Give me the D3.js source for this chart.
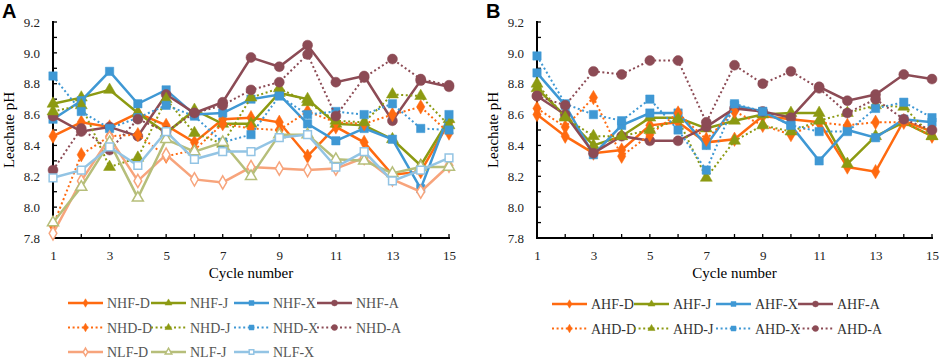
<!DOCTYPE html>
<html><head><meta charset="utf-8">
<script src="https://cdn.jsdelivr.net/npm/d3@7"></script>
<style>body{margin:0;background:#fff}svg{display:block}</style>
</head><body><svg id="c" width="941" height="360"></svg>
<script>
const cycles = [1,2,3,4,5,6,7,8,9,10,11,12,13,14,15];
const xTicks = [1,3,5,7,9,11,13,15];
const yTicks = [7.8,8.0,8.2,8.4,8.6,8.8,9.0,9.2];

// Panel A
const NHF_D = [8.46,8.55,8.52,8.61,8.53,8.42,8.57,8.58,8.55,8.33,8.52,8.42,8.21,8.23,8.55];
const NHF_J = [8.67,8.71,8.76,8.61,8.48,8.63,8.54,8.54,8.74,8.70,8.54,8.53,8.44,8.27,8.57];
const NHF_X = [8.57,8.69,8.88,8.67,8.76,8.60,8.61,8.70,8.73,8.54,8.43,8.51,8.44,8.12,8.60];
const NHF_A = [8.59,8.49,8.52,8.46,8.73,8.61,8.68,8.97,8.91,9.05,8.81,8.85,8.56,8.82,8.78];
const NHD_D = [7.88,8.34,8.46,8.47,8.33,8.37,8.54,8.51,8.50,8.62,8.55,8.54,8.60,8.65,8.48];
const NHD_J = [8.62,8.66,8.26,8.32,8.70,8.48,8.41,8.71,8.77,8.68,8.56,8.55,8.73,8.72,8.53];
const NHD_X = [8.85,8.62,8.51,8.58,8.66,8.59,8.42,8.47,8.72,8.60,8.62,8.60,8.67,8.51,8.50];
const NHD_A = [8.24,8.51,8.37,8.57,8.49,8.61,8.66,8.76,8.81,8.99,8.59,8.84,8.96,8.83,8.79];
const NLF_D = [7.83,8.17,8.45,8.17,8.34,8.18,8.16,8.26,8.25,8.24,8.25,8.32,8.18,8.10,8.27];
const NLF_J = [7.90,8.13,8.42,8.06,8.44,8.36,8.42,8.20,8.47,8.47,8.31,8.30,8.22,8.26,8.26];
const NLF_X = [8.19,8.24,8.39,8.27,8.49,8.31,8.36,8.36,8.45,8.47,8.26,8.36,8.17,8.24,8.32];

// Panel B
const AHF_D = [8.60,8.46,8.35,8.37,8.53,8.55,8.42,8.44,8.59,8.57,8.55,8.26,8.23,8.56,8.49];
const AHF_J = [8.77,8.59,8.40,8.46,8.58,8.58,8.51,8.56,8.60,8.61,8.61,8.28,8.46,8.55,8.46];
const AHF_X = [8.87,8.66,8.34,8.53,8.61,8.61,8.40,8.66,8.62,8.53,8.30,8.50,8.45,8.57,8.55];
const AHF_A = [8.72,8.60,8.35,8.46,8.43,8.43,8.52,8.64,8.62,8.58,8.78,8.69,8.73,8.86,8.83];
const AHD_D = [8.64,8.52,8.71,8.33,8.47,8.61,8.44,8.62,8.53,8.47,8.55,8.53,8.55,8.55,8.46];
const AHD_J = [8.80,8.58,8.46,8.46,8.50,8.57,8.19,8.43,8.53,8.49,8.56,8.61,8.66,8.65,8.46];
const AHD_X = [8.98,8.67,8.60,8.56,8.70,8.50,8.24,8.67,8.62,8.53,8.49,8.49,8.64,8.68,8.58];
const AHD_A = [8.72,8.66,8.88,8.86,8.95,8.95,8.55,8.92,8.80,8.88,8.77,8.61,8.70,8.57,8.50];

const C = {orange:"#ff6a10", olive:"#8c9a12", blue:"#3f98d4", brown:"#8c4b55",
           lorange:"#f7a47c", lolive:"#b6be7a", lblue:"#93c4e4"};

const seriesA = [
  {name:"NHF-D", data:NHF_D, color:C.orange, sym:"diamond", dash:false, hollow:false},
  {name:"NHF-J", data:NHF_J, color:C.olive, sym:"triangle", dash:false, hollow:false},
  {name:"NHF-X", data:NHF_X, color:C.blue, sym:"square", dash:false, hollow:false},
  {name:"NHF-A", data:NHF_A, color:C.brown, sym:"circle", dash:false, hollow:false},
  {name:"NHD-D", data:NHD_D, color:C.orange, sym:"diamond", dash:true, hollow:false},
  {name:"NHD-J", data:NHD_J, color:C.olive, sym:"triangle", dash:true, hollow:false},
  {name:"NHD-X", data:NHD_X, color:C.blue, sym:"square", dash:true, hollow:false},
  {name:"NHD-A", data:NHD_A, color:C.brown, sym:"circle", dash:true, hollow:false},
  {name:"NLF-D", data:NLF_D, color:C.lorange, sym:"diamond", dash:false, hollow:true},
  {name:"NLF-J", data:NLF_J, color:C.lolive, sym:"triangle", dash:false, hollow:true},
  {name:"NLF-X", data:NLF_X, color:C.lblue, sym:"square", dash:false, hollow:true}
];
const seriesB = [
  {name:"AHF-D", data:AHF_D, color:C.orange, sym:"diamond", dash:false, hollow:false},
  {name:"AHF-J", data:AHF_J, color:C.olive, sym:"triangle", dash:false, hollow:false},
  {name:"AHF-X", data:AHF_X, color:C.blue, sym:"square", dash:false, hollow:false},
  {name:"AHF-A", data:AHF_A, color:C.brown, sym:"circle", dash:false, hollow:false},
  {name:"AHD-D", data:AHD_D, color:C.orange, sym:"diamond", dash:true, hollow:false},
  {name:"AHD-J", data:AHD_J, color:C.olive, sym:"triangle", dash:true, hollow:false},
  {name:"AHD-X", data:AHD_X, color:C.blue, sym:"square", dash:true, hollow:false},
  {name:"AHD-A", data:AHD_A, color:C.brown, sym:"circle", dash:true, hollow:false}
];

const svg = d3.select("#c");
const serif = "'Liberation Serif','Times New Roman',serif";
const symMap = {diamond:[d3.symbolDiamond,60], triangle:[d3.symbolTriangle,62], square:[d3.symbolSquare,70], circle:[d3.symbolCircle,78]};

function marker(g, s, x, y, scale){
  scale = scale || 1;
  const [t, size] = symMap[s.sym];
  g.append("path").attr("d", d3.symbol().type(t).size((s.hollow ? size*0.85 : size)*scale)())
    .attr("transform", `translate(${x},${y})`)
    .attr("fill", s.hollow ? "#fff" : s.color)
    .attr("stroke", s.color).attr("stroke-width", s.hollow ? 1.5 : 0.5);
}

function panel(opt){
  const {left, right, letter, series, legendX, legendY, colW, textColor} = opt;
  const top = 22, bottom = 238;
  const x = d3.scaleLinear().domain([1,15]).range([left,right]);
  const y = d3.scaleLinear().domain([7.8,9.2]).range([bottom,top]);
  const g = svg.append("g");

  g.append("text").attr("x", left-51).attr("y", 18).text(letter)
    .attr("font-family","Arial,'Liberation Sans',sans-serif").attr("font-weight","bold").attr("font-size",20);

  const yMinor = d3.range(7.8, 9.21, 0.1);
  const yAxis = d3.axisLeft(y).tickValues(yTicks).tickFormat(d3.format(".1f")).tickSize(0).tickPadding(13);
  const ya = g.append("g").attr("transform",`translate(${left},0)`).call(yAxis);
  ya.select(".domain").remove();
  ya.selectAll("text").attr("font-family",serif).attr("font-size",13).attr("fill","#222");
  g.selectAll(".ymt").data(yMinor).join("line")
    .attr("x1",left).attr("x2",left+4).attr("y1",d=>y(d)).attr("y2",d=>y(d))
    .attr("stroke","#000").attr("stroke-width",1.3);

  const xAxis = d3.axisBottom(x).tickValues(xTicks).tickFormat(d3.format("d")).tickSize(0).tickPadding(13);
  const xa = g.append("g").attr("transform",`translate(0,${bottom})`).call(xAxis);
  xa.select(".domain").remove();
  xa.selectAll("text").attr("font-family",serif).attr("font-size",13).attr("fill","#222");
  g.selectAll(".xmt").data(cycles).join("line")
    .attr("x1",d=>x(d)).attr("x2",d=>x(d)).attr("y1",bottom).attr("y2",bottom-4)
    .attr("stroke","#000").attr("stroke-width",1.3);

  g.append("line").attr("x1",left).attr("x2",left).attr("y1",top-1).attr("y2",bottom+1)
    .attr("stroke","#000").attr("stroke-width",2);
  g.append("line").attr("x1",left-1).attr("x2",right+1).attr("y1",bottom).attr("y2",bottom)
    .attr("stroke","#000").attr("stroke-width",2);

  g.append("text").attr("transform",`translate(${left-39},${(top+bottom)/2}) rotate(-90)`)
    .attr("text-anchor","middle").attr("font-family",serif).attr("font-size",15).text("Leachate pH");
  g.append("text").attr("x",(left+right)/2).attr("y",278).attr("text-anchor","middle")
    .attr("font-family",serif).attr("font-size",15).text("Cycle number");

  const line = d3.line().x((d,i)=>x(cycles[i])).y(d=>y(d));
  series.forEach(s=>{
    g.append("path").attr("d", line(s.data)).attr("fill","none")
      .attr("stroke", s.color).attr("stroke-width", s.dash ? 2 : 2.5)
      .attr("stroke-dasharray", s.dash ? "2,2.6" : null);
    s.data.forEach((v,i)=>marker(g, s, x(cycles[i]), y(v)));
  });

  series.forEach((s,i)=>{
    const col = i % 4, row = Math.floor(i/4);
    const lx = legendX + col*colW, ly = legendY + row*24.5;
    g.append("line").attr("x1",lx).attr("x2",lx+35).attr("y1",ly).attr("y2",ly)
      .attr("stroke",s.color).attr("stroke-width", s.dash ? 2 : 2.5)
      .attr("stroke-dasharray", s.dash ? "2,2.6" : null);
    marker(g, s, lx+17.5, ly, 0.35);
    g.append("text").attr("x",lx+39).attr("y",ly+5).attr("font-family",serif).attr("font-size",14)
      .attr("fill",textColor).text(s.name);
  });
}

panel({left:53, right:449, letter:"A", series:seriesA, legendX:68, legendY:303, colW:83, textColor:"#555"});
panel({left:537, right:932, letter:"B", series:seriesB, legendX:552, legendY:304, colW:82, textColor:"#333"});
</script></body></html>
